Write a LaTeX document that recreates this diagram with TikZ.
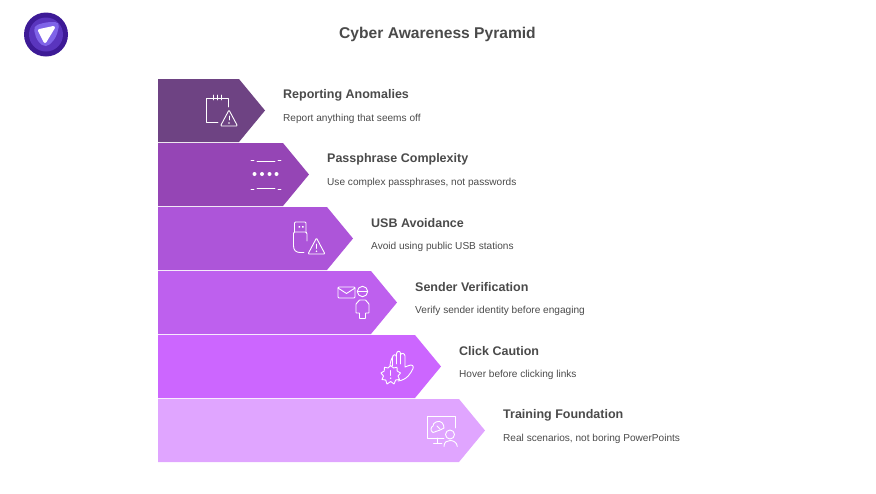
\documentclass[tikz,border=0pt]{standalone}
\usepackage{fontspec}
\setmainfont{Liberation Sans}
\definecolor{textgray}{HTML}{4A4A4A}
\definecolor{bandone}{HTML}{6E4383}
\definecolor{bandtwo}{HTML}{9545B5}
\definecolor{bandthree}{HTML}{AD55D9}
\definecolor{bandfour}{HTML}{BE60EE}
\definecolor{bandfive}{HTML}{CC66FF}
\definecolor{bandsix}{HTML}{E0A5FF}
\definecolor{logoouter}{HTML}{3D1A96}
\definecolor{logomiddle}{HTML}{5A35BE}
\definecolor{logoinner}{HTML}{7F64E8}
\tikzset{
    headtext/.style={anchor=west, inner sep=0pt, text=textgray, font=\fontsize{12.5}{14}\selectfont\bfseries},
    subtext/.style={anchor=west, inner sep=0pt, text=textgray, font=\fontsize{10.1}{12}\selectfont},
    iconline/.style={draw=white, line width=0.9pt, line join=round, line cap=round},
}
\begin{document}
\begin{tikzpicture}[x=1pt, y=-1pt]
        \useasboundingbox (0,0) rectangle (876,493);
        % logo
        \fill[logoouter] (46,34.5) circle (22);
        \fill[logomiddle] (46,34.5) circle (17);
        \fill[logoinner, rounded corners=5pt] (33,26) -- (47,22) -- (60,22) -- (56,38) -- (46,48) -- (37,41) -- cycle;
        \draw[fill=white, draw=white, line width=3pt, line join=round] (39.5,30.5) -- (53.5,27.5) -- (45,41.5) -- cycle;
        \node[anchor=center, inner sep=0pt, text=textgray, font=\fontsize{15.6}{18}\selectfont\bfseries] (title) at (437.5,34.5) {Cyber Awareness Pyramid};
        % six bands, top to bottom
        \fill[bandone] (158,79) -- (239,79) -- (265,110.5) -- (239,142) -- (158,142) -- cycle;
        \fill[bandtwo] (158,143) -- (283,143) -- (309,174.5) -- (283,206) -- (158,206) -- cycle;
        \fill[bandthree] (158,207) -- (327,207) -- (353,238.5) -- (327,270) -- (158,270) -- cycle;
        \fill[bandfour] (158,271) -- (371,271) -- (397,302.5) -- (371,334) -- (158,334) -- cycle;
        \fill[bandfive] (158,335) -- (415,335) -- (441,366.5) -- (415,398) -- (158,398) -- cycle;
        \fill[bandsix] (158,399) -- (459,399) -- (485,430.5) -- (459,462) -- (158,462) -- cycle;
        % labels
        \node[headtext] (anomalieshead) at (283,95.5) {Reporting Anomalies};
        \node[subtext] (anomaliessub) at (283,118.8) {Report anything that seems off};
        \node[headtext] (passphrasehead) at (327,159.5) {Passphrase Complexity};
        \node[subtext] (passphrasesub) at (327,182.8) {Use complex passphrases, not passwords};
        \node[headtext] (usbhead) at (371,223.5) {USB Avoidance};
        \node[subtext] (usbsub) at (371,246.8) {Avoid using public USB stations};
        \node[headtext] (senderhead) at (415,287.5) {Sender Verification};
        \node[subtext] (sendersub) at (415,310.8) {Verify sender identity before engaging};
        \node[headtext] (clickhead) at (459,351.5) {Click Caution};
        \node[subtext] (clicksub) at (459,374.8) {Hover before clicking links};
        \node[headtext] (traininghead) at (503,415.5) {Training Foundation};
        \node[subtext] (trainingsub) at (503,438.8) {Real scenarios, not boring PowerPoints};
        % calendar icon
        \draw[iconline] (218,122) -- (206,122) -- (206,98) -- (228,98) -- (228,107);
        \draw[iconline] (213,95) -- (213,100) (217,95) -- (217,100) (221,95) -- (221,100);
        \draw[iconline, rounded corners=1pt] (229,110) -- (237.5,126) -- (220.5,126) -- cycle;
        \draw[iconline] (229,116) -- (229,120);
        \fill[white] (229,123) circle (0.8);
        % password icon
        \draw[iconline] (251,160) -- (254,160) (257,161) -- (275,161) (278,160) -- (281,160);
        \fill[white] (254.5,174) circle (2) (262,174) circle (2) (269.5,174) circle (2) (276.5,174) circle (2);
        \draw[iconline] (251,189) -- (254,189) (257,188) -- (275,188) (278,189) -- (281,189);
        % usb icon
        \draw[iconline, rounded corners=1pt] (294.5,232) -- (294.5,222) -- (306,222) -- (306,232);
        \fill[white] (298.5,226) rectangle (300,227.5) (302,226) rectangle (303.5,227.5);
        \draw[iconline] (307,241) -- (307,234) .. controls (307,232.5) and (306,232) .. (305,232) -- (295,232) .. controls (294,232) and (293.5,232.5) .. (293.5,234) -- (293.5,246) .. controls (293.5,250) and (296,252.5) .. (300,252.5) -- (304,252.5);
        \draw[iconline, rounded corners=1pt] (316.5,238) -- (325,254) -- (308,254) -- cycle;
        \draw[iconline] (316.5,244) -- (316.5,248.5);
        \fill[white] (316.5,251.2) circle (0.8);
        % sender icon
        \draw[iconline, rounded corners=1pt] (338,287) rectangle (355,298);
        \draw[iconline] (338,288) -- (346.5,293.5) -- (355,288);
        \draw[iconline] (362.5,291.5) circle (5.2);
        \draw[iconline] (357.5,291.5) -- (367.5,291.5);
        \draw[iconline, rounded corners=0.5pt] (359.5,318.5) -- (359.5,313) -- (356,313) -- (356,304) -- (359.5,300) -- (365.5,300) -- (369,304) -- (369,313) -- (365.5,313) -- (365.5,318.5) -- cycle;
        % hand icon
        \draw[iconline] (390,366) .. controls (390,362) and (392,358) .. (392.5,357) (392.5,366) -- (392.5,357) .. controls (393,354) and (396.5,354) .. (396.5,357) -- (396.5,364) (396.5,357) -- (396.5,353.5) .. controls (397,350.5) and (400.5,350.5) .. (400.5,353.5) -- (400.5,364) (400.5,355) .. controls (401,352.5) and (405,353) .. (405,356) -- (405,367) -- (409,365.5) .. controls (412,364) and (414,366) .. (413,368.5) .. controls (411,373) and (407,380) .. (398,381);
        \draw[iconline] (390.7,365.5) -- (393.5,368) -- (397,367.2) -- (397.2,371) -- (400.5,373) -- (398,376) -- (399.5,379.5) -- (395.7,380) -- (394,384) -- (390.7,381.5) -- (387,384) -- (385.7,380) -- (382,379.5) -- (383.5,376) -- (381,373) -- (384.2,371) -- (384.5,367.2) -- (388,368) -- cycle;
        \draw[iconline] (390.7,370.5) -- (390.7,375.5);
        \fill[white] (390.7,378.2) circle (0.8);
        % training icon
        \draw[iconline] (444,438) -- (427,438) -- (427,416) -- (455,416) -- (455,428);
        \draw[iconline] (437.7,438) -- (437.7,443.5) (433.5,443.5) -- (442,443.5);
        \draw[iconline] (436,422) .. controls (441,419.5) and (444,424) .. (444,428) .. controls (441,430) and (437,431) .. (433,432.5) .. controls (430,431) and (430.5,427) .. (433,426) .. controls (433,424) and (434,423) .. (436,422) -- cycle;
        \draw[iconline] (437,426) -- (440,429);
        \draw[iconline] (450,434.5) circle (4.5);
        \draw[iconline] (444,446.5) .. controls (444,442) and (447,440.5) .. (450,440.5) .. controls (453,440.5) and (457,442) .. (457.3,446.5);
    \end{tikzpicture}
\end{document}
